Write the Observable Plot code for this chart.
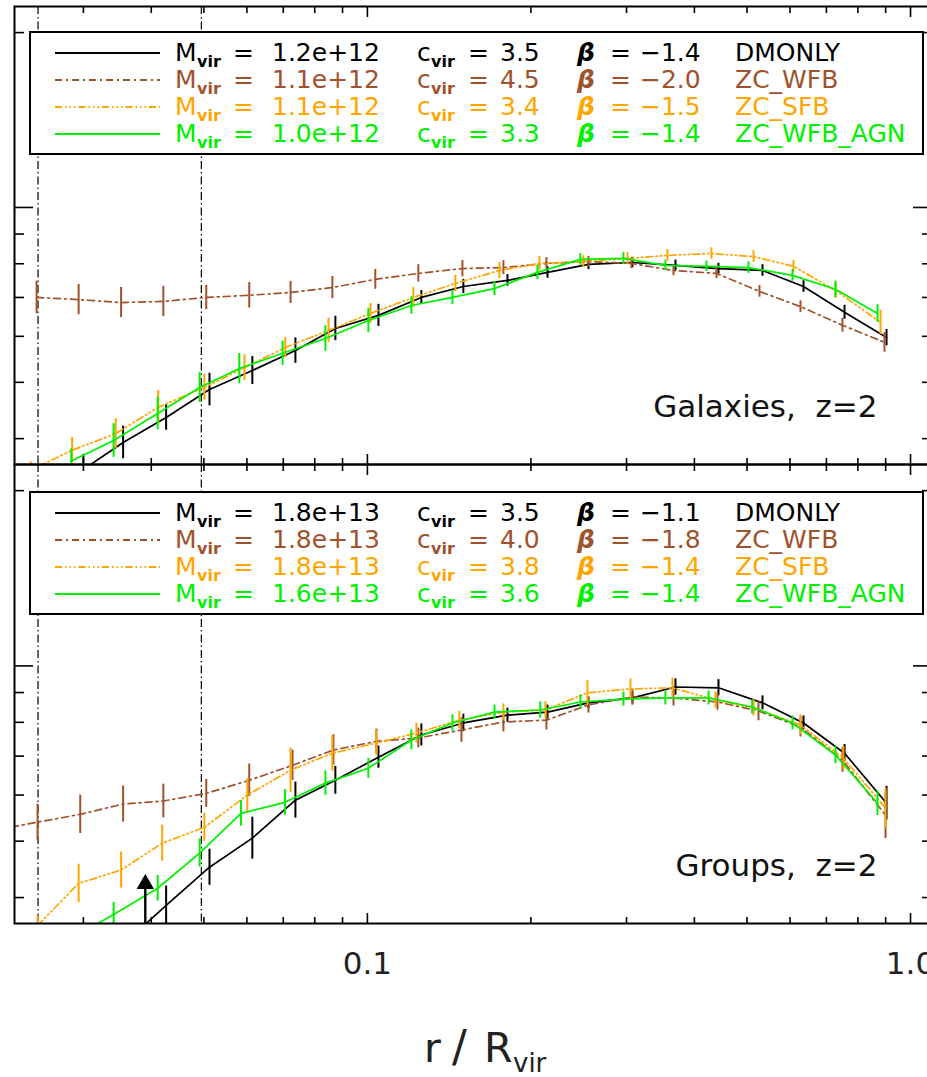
<!DOCTYPE html>
<html><head><meta charset="utf-8">
<script src="https://cdn.jsdelivr.net/npm/d3@7"></script>
<script src="https://cdn.jsdelivr.net/npm/@observablehq/plot@0.6"></script>
<style>
html,body{margin:0;padding:0;background:#fff;overflow:hidden;}
#wrap{position:relative;width:927px;height:1077px;overflow:hidden;font-family:"DejaVu Sans",sans-serif;background:#fff;}
.panel{position:absolute;left:0;}
.panel svg{max-width:none !important;}
#overlay{position:absolute;left:0;top:0;pointer-events:none;}
</style></head><body><div id="wrap"></div>
<script>
// ---------- tick values ----------
const minorX = [0.03,0.04,0.05,0.06,0.07,0.08,0.09,0.2,0.3,0.4,0.5,0.6,0.7,0.8,0.9];
const majorX = [0.1,1.0];
const minorY = [0.4,0.5,0.6,0.7,0.8,0.9,2];
const majorY = [1];
const softening = [0.02475,0.04946];

// ---------- legend text ----------
const simNames = ["DMONLY","ZC_WFB","ZC_SFB","ZC_WFB_AGN"];
const galMvir = ["1.2e+12","1.1e+12","1.1e+12","1.0e+12"];
const galCvir = ["3.5","4.5","3.4","3.3"];
const galBeta = ["\u22121.4","\u22122.0","\u22121.5","\u22121.4"];
const grpMvir = ["1.8e+13","1.8e+13","1.8e+13","1.6e+13"];
const grpCvir = ["3.5","4.0","3.8","3.6"];
const grpBeta = ["\u22121.1","\u22121.8","\u22121.4","\u22121.4"];
const panelLabels = ["Galaxies,  z=2","Groups,  z=2"];

// ---------- Galaxies, z=2 ----------
const galR_DM = [0.0300,0.0355,0.0426,0.0512,0.0614,0.0737,0.0873,0.1048,0.1257,0.1502,0.1811,0.2146,0.2553,0.3076,0.3692,0.4430,0.5339,0.6353,0.7560,0.9033];
const galY_DM = [0.354,0.394,0.435,0.486,0.524,0.567,0.619,0.652,0.700,0.731,0.749,0.773,0.798,0.804,0.795,0.785,0.779,0.731,0.660,0.597];
const galE_DM = [.026,.028,.022,.028,.024,.022,.021,.019,.012,.012,.010,.010,.009,.009,.009,.009,.010,.010,.012,.014];

const galR_WFB = [0.0246,0.0294,0.0352,0.0421,0.0505,0.0606,0.0722,0.0862,0.1034,0.1241,0.1496,0.1780,0.2136,0.2553,0.3063,0.3661,0.4393,0.5271,0.6272,0.7494,0.8956];
const galY_WFB = [0.700,0.694,0.686,0.689,0.700,0.706,0.714,0.728,0.752,0.770,0.785,0.788,0.801,0.807,0.801,0.779,0.770,0.717,0.675,0.627,0.586];
const galE_WFB = [.028,.026,.026,.026,.021,.022,.019,.019,.017,.015,.014,.012,.010,.009,.009,.009,.009,.010,.010,.012,.017];

const galR_SFB = [0.0240,0.0286,0.0344,0.0412,0.0501,0.0594,0.0706,0.0848,0.1013,0.1215,0.1452,0.1750,0.2074,0.2498,0.3012,0.3568,0.4300,0.5140,0.6089,0.7275,0.8806];
const galY_SFB = [0.353,0.382,0.408,0.453,0.490,0.530,0.574,0.614,0.657,0.700,0.740,0.779,0.801,0.807,0.817,0.827,0.833,0.823,0.792,0.720,0.634];
const galE_SFB = [.014,.022,.026,.029,.022,.022,.017,.021,.017,.017,.014,.014,.012,.010,.010,.010,.010,.010,.010,.014,.021];

const galR_AGN = [0.0285,0.0341,0.0411,0.0491,0.0581,0.0698,0.0837,0.1004,0.1205,0.1434,0.1714,0.2056,0.2467,0.2961,0.3537,0.4210,0.5031,0.6064,0.7275,0.8694];
const galY_AGN = [0.366,0.397,0.442,0.490,0.528,0.561,0.595,0.639,0.678,0.700,0.725,0.773,0.814,0.817,0.795,0.792,0.788,0.764,0.723,0.657];
const galE_AGN = [.021,.029,.028,.026,.026,.021,.022,.021,.015,.012,.012,.012,.010,.010,.009,.009,.010,.010,.014,.015];

// ---------- Groups, z=2 ----------
const grpR_DM = [0.0355,0.0426,0.0512,0.0614,0.0737,0.0873,0.1048,0.1257,0.1502,0.1811,0.2146,0.2553,0.3076,0.3692,0.4430,0.5339,0.6353,0.7560,0.9033];
const grpY_DM = [0.332,0.388,0.451,0.506,0.588,0.636,0.697,0.761,0.798,0.823,0.833,0.864,0.881,0.920,0.917,0.864,0.798,0.708,0.581];
const grpE_DM = [.031,.033,.031,.036,.031,.024,.019,.019,.015,.012,.012,.010,.010,.014,.014,.012,.012,.015,.029];

const grpR_WFB = [0.0206,0.0247,0.0296,0.0355,0.0421,0.0505,0.0606,0.0728,0.0866,0.1039,0.1241,0.1490,0.1780,0.2136,0.2553,0.3076,0.3661,0.4411,0.5249,0.6272,0.7494,0.8995];
const grpY_WFB = [0.522,0.539,0.556,0.579,0.586,0.604,0.636,0.675,0.717,0.742,0.752,0.776,0.801,0.807,0.857,0.884,0.881,0.867,0.837,0.785,0.689,0.554];
const grpE_WFB = [.026,.031,.033,.031,.029,.024,.028,.026,.026,.021,.017,.021,.017,.017,.014,.014,.014,.014,.017,.017,.021,.040];

const grpR_SFB = [0.0247,0.0294,0.0352,0.0419,0.0501,0.0601,0.0722,0.0862,0.1039,0.1231,0.1477,0.1780,0.2127,0.2542,0.3050,0.3645,0.4375,0.5140,0.6272,0.7525,0.8995];
const grpY_SFB = [0.358,0.423,0.446,0.496,0.528,0.600,0.662,0.708,0.737,0.767,0.807,0.833,0.840,0.899,0.913,0.917,0.874,0.847,0.792,0.694,0.570];
const grpE_SFB = [.017,.033,.031,.031,.024,.028,.038,.031,.022,.017,.015,.014,.014,.021,.017,.017,.014,.014,.017,.021,.034];

const grpR_AGN = [0.0285,0.0341,0.0411,0.0491,0.0585,0.0705,0.0837,0.1004,0.1205,0.1434,0.1714,0.2081,0.2467,0.2961,0.3537,0.4248,0.5110,0.6064,0.7275,0.8694];
const grpY_AGN = [0.340,0.374,0.415,0.477,0.558,0.583,0.629,0.667,0.746,0.798,0.833,0.840,0.867,0.877,0.881,0.881,0.850,0.798,0.703,0.581];
const grpE_AGN = [.024,.021,.022,.024,.022,.022,.021,.017,.017,.014,.012,.014,.012,.012,.012,.012,.012,.012,.015,.021];

// lower-limit arrow (groups, DMONLY)
const arrowR = [0.0390];
const arrowY = [0.422];

// ---------- styles ----------
const colors = ["#000000","#a0522d","#ffa500","#00f000"];
const dashes = [null,"7,4,2,4","7,3,1.5,3,1.5,3,1.5,3",null];
const xDomain = [0.0224,1.093];
const yDomain = [0.361,2.218];

function table(xs, ys, es){
  return xs.map((x,i)=>({x, y: ys[i], lo: ys[i]*Math.pow(10,-es[i]), hi: ys[i]*Math.pow(10,es[i])}));
}

const galSeries = [table(galR_DM,galY_DM,galE_DM), table(galR_WFB,galY_WFB,galE_WFB), table(galR_SFB,galY_SFB,galE_SFB), table(galR_AGN,galY_AGN,galE_AGN)];
const grpSeries = [table(grpR_DM,grpY_DM,grpE_DM), table(grpR_WFB,grpY_WFB,grpE_WFB), table(grpR_SFB,grpY_SFB,grpE_SFB), table(grpR_AGN,grpY_AGN,grpE_AGN)];

function panel(series, label, bottom, extra){
  const blank = () => "";
  const marks = [
    Plot.ruleX(softening, {stroke:"black", strokeWidth:1.2, strokeDasharray:"8,3,1.5,3"})
  ];
  series.forEach((s,k)=>{
    marks.push(Plot.line(s, {x:"x", y:"y", stroke:colors[k], strokeWidth:1.7, strokeDasharray:dashes[k], clip:true}));
    marks.push(Plot.ruleX(s, {x:"x", y1:"lo", y2:"hi", stroke:colors[k], strokeWidth:2, clip:true}));
  });
  if (extra) marks.push(...extra);
  marks.push(
    Plot.frame({stroke:"black", strokeWidth:2}),
    Plot.axisX({anchor:"bottom", ticks:minorX, tickSize:-6, tickFormat:blank, label:null, strokeWidth:1.6}),
    Plot.axisX({anchor:"bottom", ticks:majorX, tickSize:-10, tickFormat:blank, label:null, strokeWidth:1.6}),
    Plot.axisX({anchor:"top", ticks:minorX, tickSize:-6, tickFormat:blank, label:null, strokeWidth:1.6}),
    Plot.axisX({anchor:"top", ticks:majorX, tickSize:-10, tickFormat:blank, label:null, strokeWidth:1.6}),
    Plot.axisY({anchor:"left", ticks:minorY, tickSize:-10, tickFormat:blank, label:null, strokeWidth:1.6}),
    Plot.axisY({anchor:"left", ticks:majorY, tickSize:-19, tickFormat:blank, label:null, strokeWidth:1.6}),
    Plot.axisY({anchor:"right", ticks:minorY, tickSize:-10, tickFormat:blank, label:null, strokeWidth:1.6}),
    Plot.axisY({anchor:"right", ticks:majorY, tickSize:-19, tickFormat:blank, label:null, strokeWidth:1.6}),
    Plot.text([label], {text:d=>d, frameAnchor:"bottom-right", dx:-54, dy:-57, textAnchor:"end", lineAnchor:"middle", fontSize:31, fill:"#111", fontFamily:"DejaVu Sans"})
  );
  if (bottom) {
    marks.push(Plot.axisX({anchor:"bottom", ticks:majorX, tickSize:0, tickPadding:28, tickFormat:d3.format(".1f"), label:null, fontSize:31, fill:"#222", fontFamily:"DejaVu Sans"}));
  }
  return Plot.plot({
    width: 933,
    height: bottom ? 525 : 470,
    marginLeft: 14, marginRight: 2, marginTop: 6, marginBottom: bottom ? 60 : 6,
    x: {type:"log", domain:xDomain},
    y: {type:"log", domain:yDomain},
    style: {background:"transparent", maxWidth:"none", overflow:"visible", fontFamily:"DejaVu Sans", fontSize:"31px"},
    marks
  });
}

const wrap = document.getElementById("wrap");
const p1 = document.createElement("div"); p1.className="panel"; p1.style.top="0px";
p1.appendChild(panel(galSeries, panelLabels[0], false));
wrap.appendChild(p1);

const arrowData = arrowR.map((x,i)=>({x, y: arrowY[i]}));
const arrowMarks = [
  Plot.ruleX(arrowData, {x:"x", y1:()=>yDomain[0], y2:"y", stroke:"black", strokeWidth:2.4}),
  Plot.dot(arrowData, {x:"x", y:"y", symbol:"triangle", r:5.5, fill:"black", stroke:"black"})
];
const p2 = document.createElement("div"); p2.className="panel"; p2.style.top="458px";
p2.appendChild(panel(grpSeries, panelLabels[1], true, arrowMarks));
wrap.appendChild(p2);

// ---------- legends and axis title (overlay) ----------
const ov = d3.select(wrap).append("svg").attr("id","overlay").attr("width",927).attr("height",1077)
  .style("font-family","DejaVu Sans");

function legend(top, mv, cv, bv){
  ov.append("rect").attr("x",30).attr("y",top).attr("width",893).attr("height",122)
    .attr("fill","white").attr("stroke","black").attr("stroke-width",2);
  for (let i=0;i<4;i++){
    const cy = top + 21 + 27*i, base = cy + 8, col = colors[i];
    const ln = ov.append("line").attr("x1",55).attr("x2",160).attr("y1",cy).attr("y2",cy)
      .attr("stroke",col).attr("stroke-width",2);
    if (dashes[i]) ln.attr("stroke-dasharray",dashes[i]);
    const t = (x,s,opt={}) => {
      const e = ov.append("text").attr("x",x).attr("y",base+(opt.sub?6:0)).attr("fill",col)
        .attr("font-size",opt.sub?16:25).text(s);
      if (opt.bi) e.attr("font-weight","bold").attr("font-style","italic");
      if (opt.sub) e.attr("font-weight","bold");
      return e;
    };
    t(175,"M"); t(197,"vir",{sub:true}); t(233,"=");
    t(272,mv[i]);
    t(417,"c"); t(431,"vir",{sub:true}); t(468,"=");
    t(500,cv[i]);
    t(577,"\u03b2",{bi:true}); t(610,"=");
    t(640,bv[i]);
    t(735,simNames[i]);
  }
}
legend(32, galMvir, galCvir, galBeta);
legend(492, grpMvir, grpCvir, grpBeta);

ov.append("text").attr("x",424).attr("y",1062).attr("font-size",41).attr("fill","#222").text("r");
ov.append("text").attr("x",452).attr("y",1062).attr("font-size",44).attr("fill","#222").text("/");
ov.append("text").attr("x",484).attr("y",1062).attr("font-size",41).attr("fill","#222").text("R");
ov.append("text").attr("x",513).attr("y",1072).attr("font-size",26).attr("fill","#222").text("vir");
</script></body></html>
